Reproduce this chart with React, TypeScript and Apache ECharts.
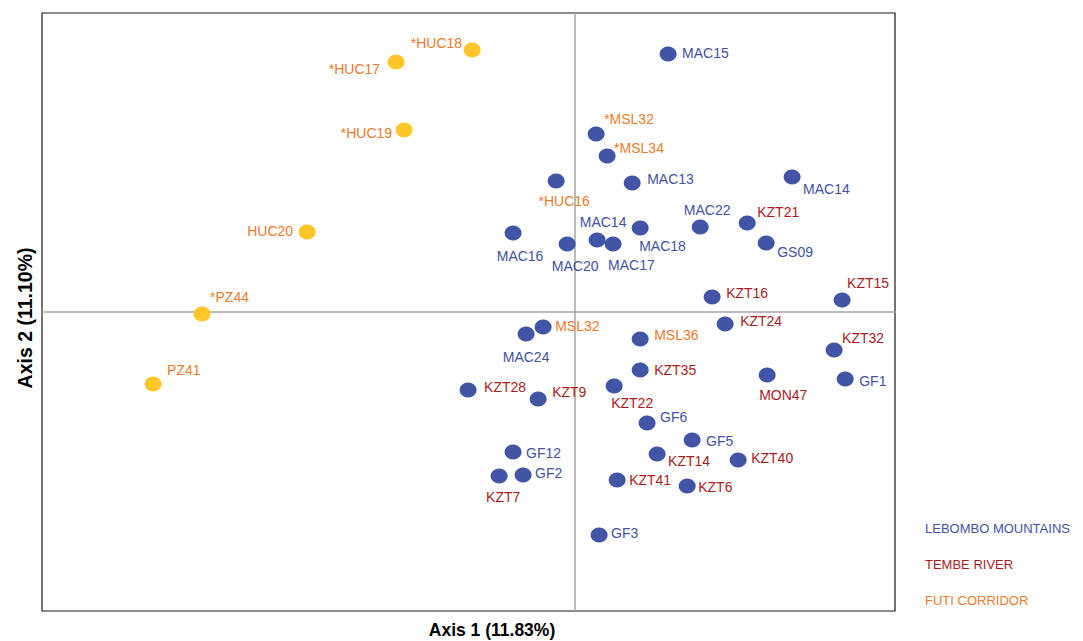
import React, { useEffect, useRef } from "react";
import * as echarts from "echarts";

// ---- data (PCoA coordinates) ----
const sampleNames = [
  "*HUC18", "*HUC17", "*HUC19", "HUC20", "*PZ44", "PZ41",
  "MAC16", "*HUC16", "MAC15", "*MSL32", "*MSL34", "MAC13", "MAC14", "MAC22",
  "KZT21", "MAC14", "MAC18", "MAC20", "MAC17", "GS09", "KZT16", "KZT15",
  "MSL32", "MAC24", "MSL36", "KZT24", "KZT32", "KZT35", "MON47", "GF1",
  "KZT28", "KZT9", "KZT22", "GF6", "GF5", "GF12", "KZT14", "KZT40",
  "KZT7", "GF2", "KZT41", "KZT6", "GF3",
];
const axis1Values = [
  -0.0966, -0.1679, -0.1604, -0.2514, -0.3499, -0.3958,
  -0.0582, -0.0178, 0.0872, 0.0197, 0.03, 0.0535, 0.2035, 0.1173,
  0.1614, 0.0206, 0.061, -0.0075, 0.0356, 0.1792, 0.1285, 0.2504,
  -0.03, -0.046, 0.061, 0.1407, 0.2429, 0.061, 0.1801, 0.2533,
  -0.1004, -0.0347, 0.0366, 0.0675, 0.1097, -0.0582, 0.0769, 0.1529,
  -0.0713, -0.0488, 0.0394, 0.1051, 0.0225,
];
const axis2Values = [
  0.2629, 0.2508, 0.1826, 0.0803, -0.002, -0.0722,
  0.0793, 0.1314, 0.2589, 0.1786, 0.1565, 0.1294, 0.1354, 0.0853,
  0.0893, 0.0722, 0.0843, 0.0682, 0.0682, 0.0692, 0.015, 0.012,
  -0.015, -0.0221, -0.0271, -0.012, -0.0381, -0.0582, -0.0632, -0.0672,
  -0.0783, -0.0873, -0.0742, -0.1114, -0.1284, -0.1405, -0.1425, -0.1485,
  -0.1645, -0.1635, -0.1686, -0.1746, -0.2237,
];
// label region: L = Lebombo Mountains, T = Tembe River, F = Futi Corridor
const labelRegion = [
  "F", "F", "F", "F", "F", "F",
  "L", "F", "L", "F", "F", "L", "L", "L",
  "T", "L", "L", "L", "L", "L", "T", "T",
  "F", "L", "F", "T", "T", "T", "T", "L",
  "T", "T", "T", "L", "L", "L", "T", "T",
  "T", "L", "T", "T", "L",
];
// marker group: Y = yellow marker, B = blue marker
const markerGroup = [
  "Y", "Y", "Y", "Y", "Y", "Y",
  "B", "B", "B", "B", "B", "B", "B", "B",
  "B", "B", "B", "B", "B", "B", "B", "B",
  "B", "B", "B", "B", "B", "B", "B", "B",
  "B", "B", "B", "B", "B", "B", "B", "B",
  "B", "B", "B", "B", "B",
];
const legendLabels = ["LEBOMBO MOUNTAINS", "TEMBE RIVER", "FUTI CORRIDOR"];
const legendRegions = ["L", "T", "F"];
const axisTitles = ["Axis 1 (11.83%)", "Axis 2 (11.10%)"];

// ---- layout / style ----
const LABEL_LAYOUT: [string, number, number][] = [
  ["r", -10, -7], ["r", -16, 7], ["r", -12, 3], ["r", -14, -1], ["l", 8, -17], ["l", 14, -14],
  ["c", 7, 23], ["c", 8, 20], ["l", 14, -1], ["l", 8, -15], ["l", 7, -8], ["l", 15, -4], ["l", 11, 12], ["c", 7, -17],
  ["l", 10, -11], ["c", 6, -18], ["l", -1, 18], ["c", 8, 22], ["l", -5, 21], ["l", 11, 9], ["l", 14, -4], ["l", 5, -17],
  ["l", 12, -1], ["c", 0, 23], ["l", 14, -4], ["l", 15, -3], ["l", 8, -12], ["l", 14, 0], ["l", -8, 20], ["l", 14, 2],
  ["l", 16, -3], ["l", 14, -7], ["l", -3, 17], ["l", 13, -6], ["l", 14, 1], ["l", 13, 1], ["l", 11, 7], ["l", 13, -2],
  ["l", -13, 21], ["l", 12, -2], ["l", 12, 0], ["l", 11, 1], ["l", 12, -2],
];
const REGION_COLORS: Record<string, string> = { L: "#4352A2", T: "#A81C1C", F: "#ED7A2C" };
const MARKER_COLORS: Record<string, string> = { Y: "#FFC629", B: "#4254A5" };
const FONT = "'Liberation Sans', Arial, sans-serif";
const ALIGN: Record<string, string> = { l: "left", c: "center", r: "right" };

export default function App() {
  const ref = useRef<HTMLDivElement>(null);
  useEffect(() => {
    document.body.style.margin = "0";
    if (!ref.current) return;
    const chart = echarts.init(ref.current, undefined, { renderer: "svg" });
    const data = sampleNames.map((name, i) => {
      const [al, dx, dy] = LABEL_LAYOUT[i];
      return {
        name,
        value: [axis1Values[i], axis2Values[i]],
        itemStyle: { color: MARKER_COLORS[markerGroup[i]], opacity: 1 },
        label: {
          show: true,
          position: "inside",
          offset: [dx, dy],
          align: ALIGN[al],
          verticalAlign: "middle",
          color: REGION_COLORS[labelRegion[i]],
          fontSize: 14,
          fontFamily: FONT,
          formatter: "{b}",
        },
      };
    });
    const axisLineStyle = { color: "#A6A6A6", width: 1.5 };
    chart.setOption({
      animation: false,
      grid: {
        left: 42, top: 13, width: 853, height: 598,
        show: true, borderColor: "#1a1a1a", borderWidth: 1.2, backgroundColor: "#fff",
      },
      xAxis: {
        type: "value", min: -0.5, max: 0.3,
        axisLine: { show: true, onZero: true, lineStyle: axisLineStyle },
        axisTick: { show: false }, axisLabel: { show: false }, splitLine: { show: false },
      },
      yAxis: {
        type: "value", min: -0.3, max: 0.3,
        axisLine: { show: true, onZero: true, lineStyle: axisLineStyle },
        axisTick: { show: false }, axisLabel: { show: false }, splitLine: { show: false },
      },
      series: [
        {
          type: "scatter",
          symbol: "circle",
          symbolSize: [17, 15],
          itemStyle: { opacity: 1 },
          data,
          z: 3,
        },
      ],
      graphic: [
        {
          type: "text", x: 492, y: 630,
          style: { text: axisTitles[0], font: `bold 17.5px ${FONT}`, fill: "#000", align: "center", verticalAlign: "middle" },
        },
        {
          type: "text", x: 25, y: 318, rotation: Math.PI / 2,
          style: { text: axisTitles[1], font: `bold 19.5px ${FONT}`, fill: "#000", align: "center", verticalAlign: "middle" },
        },
        ...legendLabels.map((t, i) => ({
          type: "text", x: 925, y: 528 + i * 36,
          style: { text: t, font: `13px ${FONT}`, fill: REGION_COLORS[legendRegions[i]], align: "left", verticalAlign: "middle" },
        })),
      ],
    });
    return () => chart.dispose();
  }, []);
  return <div ref={ref} style={{ width: 1083, height: 641 }} />;
}
